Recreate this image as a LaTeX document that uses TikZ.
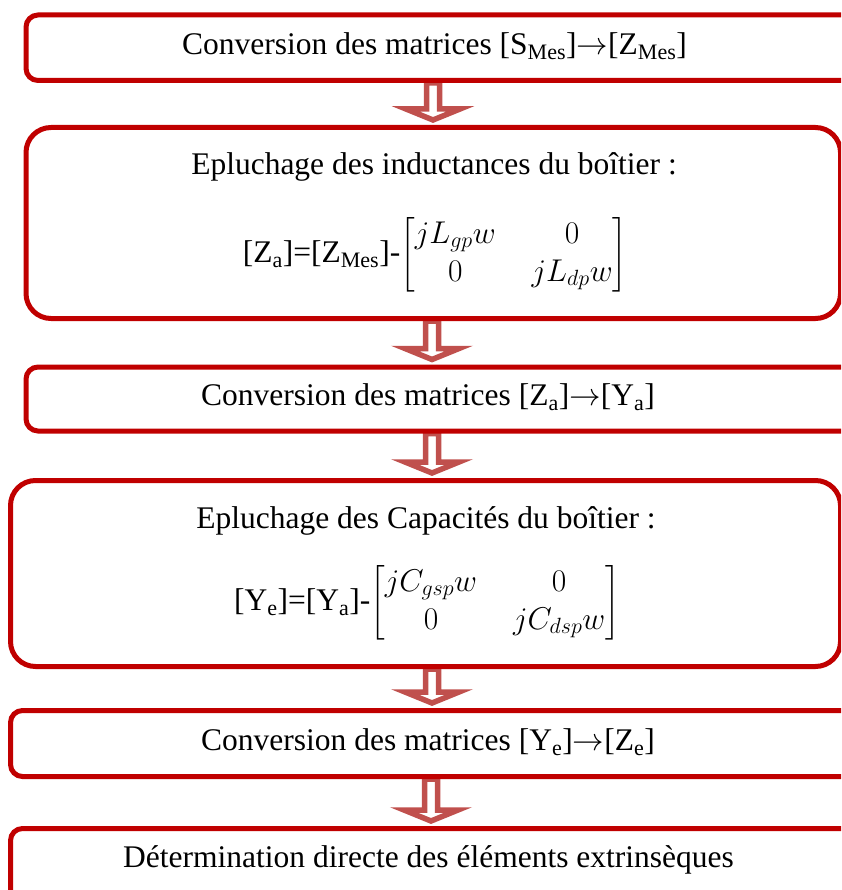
\RequirePackage{fix-cm}
\documentclass[tikz,border=0pt]{standalone}
\usepackage{amsmath}
\usepackage{fontspec}
\setmainfont{Liberation Serif}
\usetikzlibrary{calc,backgrounds}
\definecolor{boxred}{RGB}{192,0,0}
\definecolor{arrred}{RGB}{192,80,77}
\tikzset{
  flowbox/.style={draw=boxred, line width=5pt, rounded corners=12pt, inner sep=0pt, anchor=north west},
  bigbox/.style={flowbox, rounded corners=25pt},
  txt/.style={font=\fontsize{31.5}{38}\selectfont, inner sep=0pt},
  hollow/.style={draw=arrred, fill=white, line width=5.5pt, line join=miter},
}
\newcommand\flowarrow[3]{%
  \draw[hollow] let \p1=(#2.south), \p2=(#3.north) in
    ({#1pt-6.5pt},\y1) -- ({#1pt-6.5pt},{\y2+16pt}) -- ({#1pt-27pt},{\y2+16pt})
    -- ({#1pt},{\y2+5pt}) -- ({#1pt+27pt},{\y2+16pt}) -- ({#1pt+6.5pt},{\y2+16pt})
    -- ({#1pt+6.5pt},\y1) -- cycle;}
\begin{document}
\begin{tikzpicture}[x=1pt,y=-1pt]
  \useasboundingbox (0,0) rectangle (841,890);
  \clip (0,0) rectangle (841,890);

  \node[flowbox, minimum width=856.5pt, minimum height=65.5pt] (b1) at (23.5,12.5) {};
  \node[bigbox, minimum width=814.5pt, minimum height=191pt] (b2) at (23.5,125) {};
  \node[flowbox, minimum width=856.5pt, minimum height=64pt] (b3) at (23.5,364.5) {};
  \node[bigbox, minimum width=830pt, minimum height=186pt] (b4) at (8,478) {};
  \node[flowbox, minimum width=872pt, minimum height=66pt] (b5) at (8,708) {};
  \node[flowbox, minimum width=872pt, minimum height=94pt] (b6) at (8,826) {};

  \begin{pgfonlayer}{background}
    \flowarrow{433}{b1}{b2}
    \flowarrow{432}{b2}{b3}
    \flowarrow{432}{b3}{b4}
    \flowarrow{432}{b4}{b5}
    \flowarrow{431}{b5}{b6}
  \end{pgfonlayer}

  \node[txt] (t1) at (434.5,46) {Conversion des matrices [S\textsubscript{Mes}]$\to$[Z\textsubscript{Mes}]};
  \node[txt] (t2) at (434,167) {Epluchage des inductances du boîtier :};
  \node[txt] (e2) at (435,254.5) {[Z\textsubscript{a}]=[Z\textsubscript{Mes}]-$\setlength\arraycolsep{18pt}\begin{bmatrix} jL_{gp}w & 0\\ 0 & jL_{dp}w\end{bmatrix}$};
  \node[txt] (t3) at (428,397) {Conversion des matrices [Z\textsubscript{a}]$\to$[Y\textsubscript{a}]};
  \node[txt] (t4) at (426,521) {Epluchage des Capacités du boîtier :};
  \node[txt] (e4) at (427,602.5) {[Y\textsubscript{e}]=[Y\textsubscript{a}]-$\setlength\arraycolsep{18pt}\begin{bmatrix} jC_{gsp}w & 0\\ 0 & jC_{dsp}w\end{bmatrix}$};
  \node[txt] (t5) at (428,742) {Conversion des matrices [Y\textsubscript{e}]$\to$[Z\textsubscript{e}]};
  \node[txt] (t6) at (428.5,860) {Détermination directe des éléments extrinsèques};
\end{tikzpicture}
\end{document}
